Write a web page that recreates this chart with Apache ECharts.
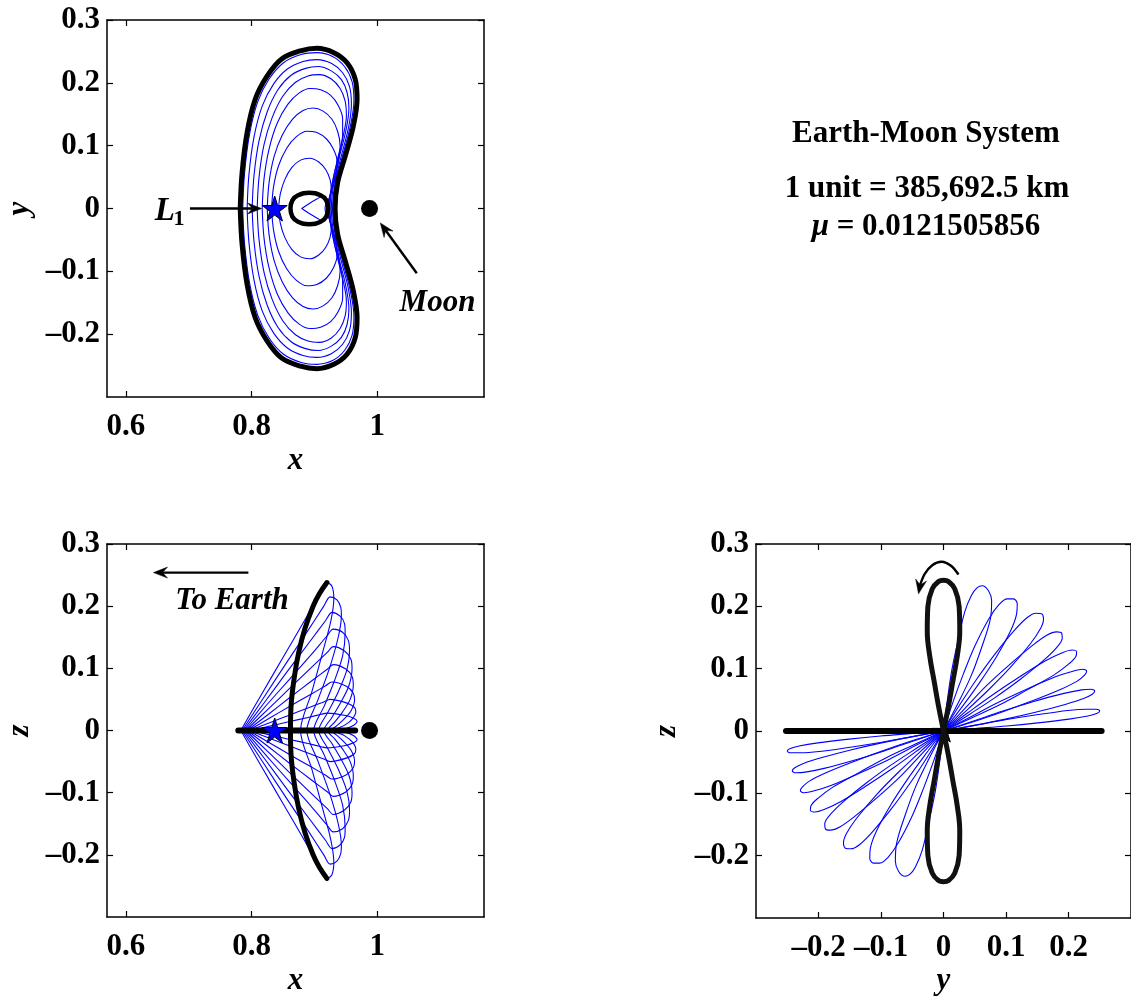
<!DOCTYPE html>
<html>
<head>
<meta charset="utf-8">
<script src="https://cdn.jsdelivr.net/npm/echarts@6/dist/echarts.min.js"></script>
<style>
html, body { margin: 0; padding: 0; background: #fff; }
#chart { width: 1131px; height: 997px; }
</style>
</head>
<body>
<div id="chart"></div>
<script>
// ---- Earth-Moon L1: planar Lyapunov, vertical and axial orbit family ----

// Tick positions and axis ranges
const xTicks = [0.6, 0.8, 1];
const yTicks = [-0.2, -0.1, 0, 0.1, 0.2, 0.3];
const yTicksH = [-0.2, -0.1, 0, 0.1, 0.2];

// Libration point and Moon (x, in rotating frame units)
const L1Point = [0.8369, 0];
const moonPoint = [0.98785, 0];

// ---------- x-y projection ----------
const xyLyapunov = [[0.782,0],[0.785,0.057],[0.793,0.121],[0.806,0.174],[0.825,0.211],[0.848,0.238],[0.878,0.251],[0.904,0.255],[0.931,0.248],[0.952,0.232],[0.965,0.206],[0.968,0.174],[0.962,0.131],[0.949,0.083],[0.937,0.041],[0.933,0],[0.937,-0.041],[0.949,-0.083],[0.962,-0.131],[0.968,-0.174],[0.965,-0.206],[0.952,-0.232],[0.931,-0.248],[0.904,-0.255],[0.878,-0.251],[0.848,-0.238],[0.825,-0.211],[0.806,-0.174],[0.793,-0.121],[0.785,-0.057],[0.782,0]];
const xyVertical = [[0.862,0],[0.865,0.013],[0.874,0.021],[0.892,0.025],[0.910,0.021],[0.919,0.013],[0.922,0],[0.919,-0.013],[0.910,-0.021],[0.892,-0.025],[0.874,-0.021],[0.865,-0.013],[0.862,0]];
const xyAxial = [
  [[0.880,0],[0.892,0.008],[0.904,0.015],[0.914,0.020],[0.918,0.017],[0.918,0.008],[0.917,0],[0.918,-0.008],[0.918,-0.017],[0.914,-0.020],[0.904,-0.015],[0.892,-0.008],[0.880,0]],
  [[0.843,0],[0.846,0.024],[0.853,0.046],[0.864,0.065],[0.878,0.077],[0.893,0.080],[0.907,0.074],[0.918,0.062],[0.925,0.046],[0.927,0.030],[0.923,0.014],[0.919,0],[0.923,-0.014],[0.927,-0.030],[0.925,-0.046],[0.918,-0.062],[0.907,-0.074],[0.893,-0.080],[0.878,-0.077],[0.864,-0.065],[0.853,-0.046],[0.846,-0.024],[0.843,0]],
  [[0.832,0],[0.835,0.034],[0.843,0.068],[0.856,0.096],[0.871,0.114],[0.888,0.123],[0.904,0.121],[0.919,0.111],[0.930,0.095],[0.936,0.076],[0.935,0.055],[0.929,0.033],[0.923,0.014],[0.920,0],[0.923,-0.014],[0.929,-0.033],[0.935,-0.055],[0.936,-0.076],[0.930,-0.095],[0.919,-0.111],[0.904,-0.121],[0.888,-0.123],[0.871,-0.114],[0.856,-0.096],[0.843,-0.068],[0.835,-0.034],[0.832,0]],
  [[0.825,0],[0.828,0.042],[0.836,0.083],[0.849,0.117],[0.865,0.142],[0.882,0.156],[0.898,0.160],[0.914,0.155],[0.928,0.142],[0.937,0.123],[0.941,0.100],[0.938,0.072],[0.931,0.045],[0.925,0.020],[0.922,0],[0.925,-0.020],[0.931,-0.045],[0.938,-0.072],[0.941,-0.100],[0.937,-0.123],[0.928,-0.142],[0.914,-0.155],[0.898,-0.160],[0.882,-0.156],[0.865,-0.142],[0.849,-0.117],[0.836,-0.083],[0.828,-0.042],[0.825,0]],
  [[0.817,0],[0.820,0.048],[0.828,0.095],[0.841,0.136],[0.858,0.166],[0.876,0.184],[0.893,0.191],[0.910,0.189],[0.926,0.180],[0.938,0.164],[0.945,0.143],[0.945,0.118],[0.940,0.088],[0.932,0.057],[0.926,0.027],[0.923,0],[0.926,-0.027],[0.932,-0.057],[0.940,-0.088],[0.945,-0.118],[0.945,-0.143],[0.938,-0.164],[0.926,-0.180],[0.910,-0.189],[0.893,-0.191],[0.876,-0.184],[0.858,-0.166],[0.841,-0.136],[0.828,-0.095],[0.820,-0.048],[0.817,0]],
  [[0.809,0],[0.812,0.050],[0.820,0.102],[0.833,0.145],[0.850,0.179],[0.870,0.201],[0.890,0.211],[0.908,0.213],[0.927,0.206],[0.941,0.191],[0.949,0.171],[0.951,0.148],[0.946,0.116],[0.937,0.079],[0.929,0.040],[0.925,0],[0.929,-0.040],[0.937,-0.079],[0.946,-0.116],[0.951,-0.148],[0.949,-0.171],[0.941,-0.191],[0.927,-0.206],[0.908,-0.213],[0.890,-0.211],[0.870,-0.201],[0.850,-0.179],[0.833,-0.145],[0.820,-0.102],[0.812,-0.050],[0.809,0]],
  [[0.801,0],[0.804,0.053],[0.812,0.108],[0.825,0.154],[0.842,0.189],[0.863,0.212],[0.886,0.223],[0.906,0.226],[0.927,0.219],[0.943,0.205],[0.952,0.185],[0.955,0.160],[0.950,0.123],[0.940,0.083],[0.931,0.041],[0.927,0],[0.931,-0.041],[0.940,-0.083],[0.950,-0.123],[0.955,-0.160],[0.952,-0.185],[0.943,-0.205],[0.927,-0.219],[0.906,-0.226],[0.886,-0.223],[0.863,-0.212],[0.842,-0.189],[0.825,-0.154],[0.812,-0.108],[0.804,-0.053],[0.801,0]],
  [[0.793,0],[0.796,0.055],[0.804,0.114],[0.817,0.163],[0.835,0.198],[0.857,0.222],[0.882,0.234],[0.904,0.237],[0.927,0.231],[0.945,0.216],[0.956,0.194],[0.959,0.166],[0.954,0.127],[0.943,0.084],[0.933,0.041],[0.929,0],[0.933,-0.041],[0.943,-0.084],[0.954,-0.127],[0.959,-0.166],[0.956,-0.194],[0.945,-0.216],[0.927,-0.231],[0.904,-0.237],[0.882,-0.234],[0.857,-0.222],[0.835,-0.198],[0.817,-0.163],[0.804,-0.114],[0.796,-0.055],[0.793,0]],
  [[0.786,0],[0.789,0.057],[0.797,0.119],[0.810,0.170],[0.828,0.206],[0.851,0.232],[0.879,0.245],[0.904,0.248],[0.929,0.242],[0.948,0.226],[0.960,0.202],[0.963,0.172],[0.957,0.130],[0.945,0.084],[0.934,0.041],[0.930,0],[0.934,-0.041],[0.945,-0.084],[0.957,-0.130],[0.963,-0.172],[0.960,-0.202],[0.948,-0.226],[0.929,-0.242],[0.904,-0.248],[0.879,-0.245],[0.851,-0.232],[0.828,-0.206],[0.810,-0.170],[0.797,-0.119],[0.789,-0.057],[0.786,0]]
];

// ---------- x-z projection ----------
const xzLyapunov = [[0.779,0],[0.965,0]];
const xzVertical = [[0.920,-0.238],[0.908,-0.220],[0.898,-0.200],[0.885,-0.164],[0.875,-0.125],[0.868,-0.085],[0.863,-0.040],[0.862,0],[0.863,0.040],[0.868,0.085],[0.875,0.125],[0.885,0.164],[0.898,0.200],[0.908,0.220],[0.920,0.238]];
const xzAxial = [
  [[0.783,0],[0.817,0.060],[0.851,0.119],[0.885,0.178],[0.912,0.226],[0.920,0.238],[0.928,0.232],[0.931,0.212],[0.926,0.175],[0.913,0.125],[0.896,0.062],[0.878,0],[0.896,-0.062],[0.913,-0.125],[0.926,-0.175],[0.931,-0.212],[0.928,-0.232],[0.920,-0.238],[0.912,-0.226],[0.885,-0.178],[0.851,-0.119],[0.817,-0.060],[0.783,0]],
  [[0.785,0],[0.820,0.054],[0.855,0.108],[0.890,0.161],[0.915,0.200],[0.925,0.215],[0.936,0.210],[0.942,0.198],[0.943,0.185],[0.938,0.150],[0.924,0.100],[0.906,0.050],[0.888,0],[0.906,-0.050],[0.924,-0.100],[0.938,-0.150],[0.943,-0.185],[0.942,-0.198],[0.936,-0.210],[0.925,-0.215],[0.915,-0.200],[0.890,-0.161],[0.855,-0.108],[0.820,-0.054],[0.785,0]],
  [[0.787,0],[0.822,0.047],[0.857,0.095],[0.892,0.142],[0.918,0.177],[0.928,0.190],[0.941,0.184],[0.948,0.172],[0.949,0.158],[0.945,0.120],[0.932,0.080],[0.916,0.040],[0.899,0],[0.916,-0.040],[0.932,-0.080],[0.945,-0.120],[0.949,-0.158],[0.948,-0.172],[0.941,-0.184],[0.928,-0.190],[0.918,-0.177],[0.892,-0.142],[0.857,-0.095],[0.822,-0.047],[0.787,0]],
  [[0.789,0],[0.824,0.041],[0.860,0.082],[0.895,0.122],[0.920,0.152],[0.930,0.163],[0.945,0.158],[0.954,0.145],[0.956,0.129],[0.951,0.095],[0.937,0.060],[0.922,0.030],[0.907,0],[0.922,-0.030],[0.937,-0.060],[0.951,-0.095],[0.956,-0.129],[0.954,-0.145],[0.945,-0.158],[0.930,-0.163],[0.920,-0.152],[0.895,-0.122],[0.860,-0.082],[0.824,-0.041],[0.789,0]],
  [[0.791,0],[0.826,0.034],[0.861,0.068],[0.895,0.101],[0.921,0.126],[0.930,0.135],[0.948,0.128],[0.958,0.115],[0.960,0.100],[0.955,0.072],[0.942,0.045],[0.928,0.021],[0.915,0],[0.928,-0.021],[0.942,-0.045],[0.955,-0.072],[0.960,-0.100],[0.958,-0.115],[0.948,-0.128],[0.930,-0.135],[0.921,-0.126],[0.895,-0.101],[0.861,-0.068],[0.826,-0.034],[0.791,0]],
  [[0.793,0],[0.828,0.027],[0.861,0.053],[0.896,0.080],[0.921,0.099],[0.930,0.106],[0.950,0.099],[0.960,0.087],[0.962,0.073],[0.957,0.050],[0.945,0.030],[0.932,0.013],[0.921,0],[0.932,-0.013],[0.945,-0.030],[0.957,-0.050],[0.962,-0.073],[0.960,-0.087],[0.950,-0.099],[0.930,-0.106],[0.921,-0.099],[0.896,-0.080],[0.861,-0.053],[0.828,-0.027],[0.793,0]],
  [[0.795,0],[0.829,0.020],[0.861,0.039],[0.894,0.058],[0.918,0.072],[0.928,0.078],[0.951,0.071],[0.962,0.060],[0.964,0.049],[0.958,0.031],[0.946,0.017],[0.935,0.007],[0.926,0],[0.935,-0.007],[0.946,-0.017],[0.958,-0.031],[0.964,-0.049],[0.962,-0.060],[0.951,-0.071],[0.928,-0.078],[0.918,-0.072],[0.894,-0.058],[0.861,-0.039],[0.829,-0.020],[0.795,0]],
  [[0.797,0],[0.829,0.0125],[0.861,0.025],[0.893,0.0375],[0.915,0.046],[0.925,0.050],[0.952,0.044],[0.964,0.037],[0.966,0.030],[0.960,0.018],[0.949,0.009],[0.932,0],[0.949,-0.009],[0.960,-0.018],[0.966,-0.030],[0.964,-0.037],[0.952,-0.044],[0.925,-0.050],[0.915,-0.046],[0.893,-0.0375],[0.861,-0.025],[0.829,-0.0125],[0.797,0]],
  [[0.799,0],[0.829,0.007],[0.859,0.014],[0.890,0.021],[0.911,0.026],[0.920,0.028],[0.950,0.024],[0.964,0.019],[0.968,0.015],[0.962,0.008],[0.950,0.003],[0.936,0],[0.950,-0.003],[0.962,-0.008],[0.968,-0.015],[0.964,-0.019],[0.950,-0.024],[0.920,-0.028],[0.911,-0.026],[0.890,-0.021],[0.859,-0.014],[0.829,-0.007],[0.799,0]]
];

// ---------- y-z projection ----------
const yzLyapunov = [[-0.252,0],[0.253,0]];
const yzVertical = [[0,0],[0.008,0.04],[0.015,0.08],[0.022,0.12],[0.026,0.16],[0.025,0.20],[0.018,0.228],[0.008,0.240],[0,0.242],[-0.008,0.240],[-0.018,0.228],[-0.025,0.20],[-0.026,0.16],[-0.022,0.12],[-0.015,0.08],[-0.008,0.04],[0,0],[0.008,-0.04],[0.015,-0.08],[0.022,-0.12],[0.026,-0.16],[0.025,-0.20],[0.018,-0.228],[0.008,-0.240],[0,-0.242],[-0.008,-0.240],[-0.018,-0.228],[-0.025,-0.20],[-0.026,-0.16],[-0.022,-0.12],[-0.015,-0.08],[-0.008,-0.04],[0,0]];
const yzAxial = [
  [[0,0],[0.023,0.044],[0.044,0.088],[0.061,0.134],[0.075,0.180],[0.077,0.209],[0.072,0.225],[0.062,0.233],[0.054,0.230],[0.045,0.218],[0.034,0.191],[0.023,0.144],[0.013,0.096],[0.006,0.048],[0,0],[-0.006,-0.048],[-0.013,-0.096],[-0.023,-0.144],[-0.034,-0.191],[-0.045,-0.218],[-0.054,-0.230],[-0.062,-0.233],[-0.072,-0.225],[-0.077,-0.209],[-0.075,-0.180],[-0.061,-0.134],[-0.044,-0.088],[-0.023,-0.044],[0,0]],
  [[0,0],[0.030,0.039],[0.058,0.078],[0.084,0.118],[0.107,0.160],[0.117,0.188],[0.118,0.204],[0.112,0.212],[0.102,0.212],[0.089,0.203],[0.072,0.179],[0.050,0.136],[0.032,0.092],[0.015,0.046],[0,0],[-0.015,-0.046],[-0.032,-0.092],[-0.050,-0.136],[-0.072,-0.179],[-0.089,-0.203],[-0.102,-0.212],[-0.112,-0.212],[-0.118,-0.204],[-0.117,-0.188],[-0.107,-0.160],[-0.084,-0.118],[-0.058,-0.078],[-0.030,-0.039],[0,0]],
  [[0,0],[0.037,0.033],[0.073,0.067],[0.107,0.102],[0.139,0.140],[0.155,0.164],[0.160,0.179],[0.157,0.188],[0.148,0.189],[0.134,0.182],[0.113,0.161],[0.082,0.123],[0.053,0.083],[0.026,0.042],[0,0],[-0.026,-0.042],[-0.053,-0.083],[-0.082,-0.123],[-0.113,-0.161],[-0.134,-0.182],[-0.148,-0.189],[-0.157,-0.188],[-0.160,-0.179],[-0.155,-0.164],[-0.139,-0.140],[-0.107,-0.102],[-0.073,-0.067],[-0.037,-0.033],[0,0]],
  [[0,0],[0.042,0.027],[0.083,0.054],[0.123,0.083],[0.161,0.114],[0.182,0.135],[0.190,0.149],[0.189,0.157],[0.181,0.159],[0.166,0.154],[0.142,0.137],[0.104,0.105],[0.068,0.072],[0.034,0.036],[0,0],[-0.034,-0.036],[-0.068,-0.072],[-0.104,-0.105],[-0.142,-0.137],[-0.166,-0.154],[-0.181,-0.159],[-0.189,-0.157],[-0.190,-0.149],[-0.182,-0.135],[-0.161,-0.114],[-0.123,-0.083],[-0.083,-0.054],[-0.042,-0.027],[0,0]],
  [[0,0],[0.045,0.021],[0.090,0.042],[0.134,0.066],[0.177,0.090],[0.201,0.108],[0.212,0.120],[0.213,0.127],[0.206,0.130],[0.191,0.126],[0.164,0.113],[0.122,0.087],[0.080,0.059],[0.040,0.030],[0,0],[-0.040,-0.030],[-0.080,-0.059],[-0.122,-0.087],[-0.164,-0.113],[-0.191,-0.126],[-0.206,-0.130],[-0.213,-0.127],[-0.212,-0.120],[-0.201,-0.108],[-0.177,-0.090],[-0.134,-0.066],[-0.090,-0.042],[-0.045,-0.021],[0,0]],
  [[0,0],[0.048,0.015],[0.095,0.031],[0.141,0.048],[0.188,0.067],[0.214,0.080],[0.226,0.090],[0.229,0.096],[0.223,0.099],[0.207,0.096],[0.179,0.087],[0.133,0.067],[0.088,0.046],[0.044,0.023],[0,0],[-0.044,-0.023],[-0.088,-0.046],[-0.133,-0.067],[-0.179,-0.087],[-0.207,-0.096],[-0.223,-0.099],[-0.229,-0.096],[-0.226,-0.090],[-0.214,-0.080],[-0.188,-0.067],[-0.141,-0.048],[-0.095,-0.031],[-0.048,-0.015],[0,0]],
  [[0,0],[0.049,0.009],[0.099,0.019],[0.147,0.030],[0.196,0.043],[0.224,0.052],[0.238,0.059],[0.242,0.064],[0.236,0.067],[0.221,0.066],[0.191,0.060],[0.143,0.047],[0.095,0.032],[0.048,0.016],[0,0],[-0.048,-0.016],[-0.095,-0.032],[-0.143,-0.047],[-0.191,-0.060],[-0.221,-0.066],[-0.236,-0.067],[-0.242,-0.064],[-0.238,-0.059],[-0.224,-0.052],[-0.196,-0.043],[-0.147,-0.030],[-0.099,-0.019],[-0.049,-0.009],[0,0]],
  [[0,0],[0.050,0.004],[0.101,0.008],[0.151,0.013],[0.201,0.019],[0.231,0.024],[0.245,0.028],[0.250,0.032],[0.245,0.035],[0.229,0.035],[0.199,0.033],[0.149,0.026],[0.099,0.018],[0.050,0.009],[0,0],[-0.050,-0.009],[-0.099,-0.018],[-0.149,-0.026],[-0.199,-0.033],[-0.229,-0.035],[-0.245,-0.035],[-0.250,-0.032],[-0.245,-0.028],[-0.231,-0.024],[-0.201,-0.019],[-0.151,-0.013],[-0.101,-0.008],[-0.050,-0.004],[0,0]]
];

// ---------- annotations (data coordinates) ----------
const xyArrows = [[0.702, 0, 0.816, 0], [1.063, -0.103, 1.005, -0.023]];
const xyLabels = [[1.096, -0.150]];
const xyLabelText = ['Moon'];
const l1LabelPos = [0.667, -0.004];
const xzArrows = [[0.795, 0.254, 0.644, 0.254]];
const xzLabels = [[0.769, 0.209]];
const xzLabelText = ['To Earth'];
const yzTurnArrow = [[0.024,0.251],[0.012,0.265],[-0.003,0.2715],[-0.018,0.266],[-0.030,0.252],[-0.037,0.236],[-0.040,0.220]];

// ---------- styling ----------
const SERIF = 'Liberation Serif';
const FS = 31;
const BLUE = '#0000ff';
const STAR = 'path://M50,0 L61.2,34.5 L97.6,34.5 L68.2,55.9 L79.4,90.5 L50,69.1 L20.6,90.5 L31.8,55.9 L2.4,34.5 L38.8,34.5 Z';

function fmt(v) {
  if (v === 0) return '0';
  return (v < 0 ? '\u2013' : '') + String(Math.abs(v));
}

function axisPair(dim, g, min, max, ticks, name, nameGap) {
  const base = {
    type: 'value', gridIndex: g, min: min, max: max,
    splitLine: { show: false },
    axisLine: { show: true, onZero: false, lineStyle: { color: '#000', width: 1.5 } },
    axisTick: { show: true, inside: true, length: 6, customValues: ticks, lineStyle: { color: '#000', width: 1.2 } }
  };
  const main = Object.assign({}, base, {
    position: dim === 'x' ? 'bottom' : 'left',
    axisLabel: {
      show: true, customValues: ticks, formatter: fmt,
      fontFamily: SERIF, fontWeight: 'bold', fontSize: FS, color: '#000',
      margin: dim === 'x' ? 14 : 7
    },
    name: name, nameLocation: 'middle', nameGap: nameGap,
    nameTextStyle: { fontFamily: SERIF, fontStyle: 'italic', fontWeight: 'bold', fontSize: FS, color: '#000' }
  });
  const mirror = Object.assign({}, base, {
    position: dim === 'x' ? 'top' : 'right',
    axisLabel: { show: false }
  });
  return [main, mirror];
}

function orbitLine(data, xi, color, width, z, smooth) {
  return {
    type: 'line', xAxisIndex: xi, yAxisIndex: xi, data: data,
    symbol: 'none', showSymbol: false, smooth: smooth,
    lineStyle: { color: color, width: width, join: 'round', cap: 'round' },
    z: z, silent: true, animation: false
  };
}

function marker(xi, point, symbol, size, color, border, z) {
  return {
    type: 'scatter', xAxisIndex: xi, yAxisIndex: xi, data: [point], symbol: symbol, symbolSize: size,
    itemStyle: { color: color, opacity: 1, borderColor: border || color, borderWidth: border ? 1 : 0 },
    z: z, silent: true, animation: false
  };
}

function arrowGraphic(pts) {
  const n = pts.length, tip = pts[n - 1], prev = pts[n - 2];
  const ang = Math.atan2(tip[1] - prev[1], tip[0] - prev[0]);
  const c = Math.cos(ang), s = Math.sin(ang);
  const len = 14, half = 5.5, notch = 9;
  const back = [tip[0] - len * c, tip[1] - len * s];
  const w1 = [back[0] - half * s, back[1] + half * c];
  const w2 = [back[0] + half * s, back[1] - half * c];
  const nb = [tip[0] - notch * c, tip[1] - notch * s];
  const line = pts.slice(0, n - 1).concat([nb]);
  return {
    type: 'group',
    children: [
      { type: 'polyline', shape: { points: line, smooth: n > 2 ? 0.3 : 0 }, style: { stroke: '#000', lineWidth: 2.4, fill: null } },
      { type: 'polygon', shape: { points: [tip, w1, nb, w2] }, style: { fill: '#000', stroke: '#000', lineWidth: 0.5 } }
    ]
  };
}

function arrowSeries(xi, arrows) {
  return {
    type: 'custom', xAxisIndex: xi, yAxisIndex: xi, data: arrows, z: 6, silent: true, animation: false,
    renderItem: function (params, api) {
      const a = api.coord([api.value(0), api.value(1)]);
      const b = api.coord([api.value(2), api.value(3)]);
      return arrowGraphic([a, b]);
    }
  };
}

function labelSeries(xi, positions, texts) {
  return {
    type: 'custom', xAxisIndex: xi, yAxisIndex: xi, data: positions, z: 6, silent: true, animation: false,
    renderItem: function (params, api) {
      const p = api.coord([api.value(0), api.value(1)]);
      return {
        type: 'text', x: p[0], y: p[1],
        style: {
          text: texts[params.dataIndex], fill: '#000',
          fontFamily: SERIF, fontStyle: 'italic', fontWeight: 'bold', fontSize: FS,
          align: 'center', verticalAlign: 'middle'
        }
      };
    }
  };
}

const series = [];
// x-y panel
xyAxial.forEach(o => series.push(orbitLine(o, 0, BLUE, 1.1, 2, 0.35)));
series.push(orbitLine(xyLyapunov, 0, '#000', 5, 3, 0.35));
series.push(orbitLine(xyVertical, 0, '#000', 4.5, 3, 0.5));
series.push(marker(0, L1Point, STAR, 25, BLUE, '#000', 4));
series.push(marker(0, moonPoint, 'circle', 17, '#000', null, 4));
series.push(arrowSeries(0, xyArrows));
series.push(labelSeries(0, xyLabels, xyLabelText));
series.push({
  type: 'custom', xAxisIndex: 0, yAxisIndex: 0, data: [l1LabelPos], z: 6, silent: true, animation: false,
  renderItem: function (params, api) {
    const p = api.coord([api.value(0), api.value(1)]);
    return {
      type: 'group',
      children: [
        { type: 'text', x: p[0] - 3, y: p[1], style: { text: 'L', fill: '#000', fontFamily: SERIF, fontStyle: 'italic', fontWeight: 'bold', fontSize: 33, align: 'center', verticalAlign: 'middle' } },
        { type: 'text', x: p[0] + 11, y: p[1] + 8, style: { text: '1', fill: '#000', fontFamily: SERIF, fontWeight: 'bold', fontSize: 22, align: 'center', verticalAlign: 'middle' } }
      ]
    };
  }
});

// x-z panel
xzAxial.forEach(o => series.push(orbitLine(o, 2, BLUE, 1.1, 2, 0.3)));
series.push(orbitLine(xzLyapunov, 2, '#000', 6, 3, false));
series.push(orbitLine(xzVertical, 2, '#000', 5, 3, 0.4));
series.push(marker(2, L1Point, STAR, 25, BLUE, '#000', 4));
series.push(marker(2, moonPoint, 'circle', 17, '#000', null, 4));
series.push(arrowSeries(2, xzArrows));
series.push(labelSeries(2, xzLabels, xzLabelText));

// y-z panel
series.push(marker(4, [0, 0], STAR, 22, '#111', '#000', 1));
yzAxial.forEach(o => series.push(orbitLine(o, 4, BLUE, 1.1, 2, 0.35)));
series.push(orbitLine(yzLyapunov, 4, '#000', 6, 3, false));
series.push(orbitLine(yzVertical, 4, '#111', 5, 3, 0.4));
series.push({
  type: 'custom', xAxisIndex: 4, yAxisIndex: 4, data: [[0, 0]], z: 6, silent: true, animation: false,
  renderItem: function (params, api) {
    return arrowGraphic(yzTurnArrow.map(p => api.coord(p)));
  }
});

const xAxes = [].concat(
  axisPair('x', 0, 0.57, 1.17, xTicks, 'x', 48),
  axisPair('x', 1, 0.57, 1.17, xTicks, 'x', 48),
  axisPair('x', 2, -0.3, 0.3, yTicksH, 'y', 47)
);
const yAxes = [].concat(
  axisPair('y', 0, -0.3, 0.3, yTicks, 'y', 72),
  axisPair('y', 1, -0.3, 0.3, yTicks, 'z', 72),
  axisPair('y', 2, -0.3, 0.3, yTicks, 'z', 74)
);

const chart = echarts.init(document.getElementById('chart'), null, { renderer: 'canvas' });
chart.setOption({
  backgroundColor: '#fff',
  animation: false,
  grid: [
    { left: 107, top: 20, width: 377, height: 377 },
    { left: 107, top: 544, width: 377, height: 378 },
    { left: 756, top: 544, width: 377, height: 378 }
  ],
  xAxis: xAxes,
  yAxis: yAxes,
  series: series,
  graphic: [
    { type: 'text', x: 926, y: 134, style: { text: 'Earth-Moon System', fill: '#000', fontFamily: SERIF, fontWeight: 'bold', fontSize: FS, align: 'center', verticalAlign: 'middle' } },
    { type: 'text', x: 927, y: 189, style: { text: '1 unit = 385,692.5 km', fill: '#000', fontFamily: SERIF, fontWeight: 'bold', fontSize: FS, align: 'center', verticalAlign: 'middle' } },
    { type: 'text', x: 926, y: 227, style: { text: '{m|\u03bc} = 0.0121505856', fill: '#000', fontFamily: SERIF, fontWeight: 'bold', fontSize: FS, align: 'center', verticalAlign: 'middle',
      rich: { m: { fontFamily: SERIF, fontStyle: 'italic', fontWeight: 'bold', fontSize: FS, fill: '#000' } } } }
  ]
});
</script>
</body>
</html>
